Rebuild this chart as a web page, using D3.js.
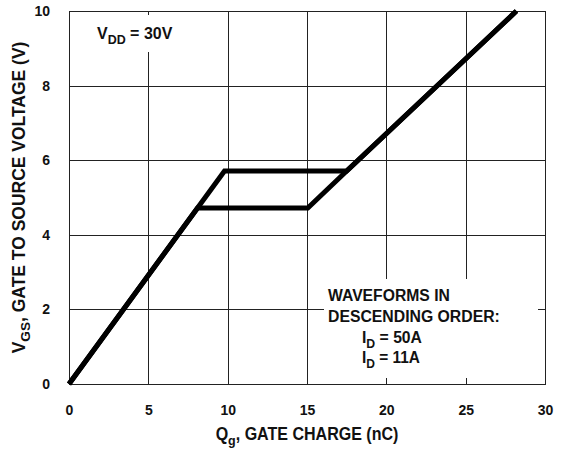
<!DOCTYPE html>
<html><head><meta charset="utf-8">
<script src="https://cdn.jsdelivr.net/npm/d3@7"></script>
<style>
html,body{margin:0;padding:0;background:#fff;}
svg{display:block;}
text{font-family:"Liberation Sans",Arial,sans-serif;font-weight:bold;fill:#111;}
</style></head>
<body>
<svg id="chart" width="563" height="450"></svg>
<script>
// ---- data ----
const xTicks = [0, 5, 10, 15, 20, 25, 30];
const yTicks = [0, 2, 4, 6, 8, 10];
const qUpper = [0, 9.8, 17.5, 28.2];          // I_D = 50A
const vUpper = [0, 5.71, 5.71, 10];
const qLower = [0, 8.1, 15.05, 17.5, 28.2];   // I_D = 11A
const vLower = [0, 4.72, 4.72, 5.71, 10];

const W = 563, H = 450;
const m = {left: 69, right: 18, top: 11, bottom: 66};
const svg = d3.select("#chart");
const x = d3.scaleLinear().domain([0, 30]).range([m.left, W - m.right]);
const y = d3.scaleLinear().domain([0, 10]).range([H - m.bottom, m.top]);
const cr = v => Math.round(v) + 0.5;

// grid
const g = svg.append("g");
g.selectAll(".vg").data(xTicks).join("line")
  .attr("x1", d => cr(x(d))).attr("x2", d => cr(x(d)))
  .attr("y1", y(10)).attr("y2", y(0))
  .attr("stroke", "#222").attr("stroke-width", 1);
g.selectAll(".hg").data(yTicks).join("line")
  .attr("y1", d => cr(y(d))).attr("y2", d => cr(y(d)))
  .attr("x1", x(0)).attr("x2", x(30))
  .attr("stroke", "#222").attr("stroke-width", 1);

// white label backgrounds
svg.append("rect").attr("x", 90).attr("y", 15).attr("width", 92).attr("height", 37).attr("fill", "#fff");
svg.append("rect").attr("x", 324).attr("y", 279).attr("width", 214).attr("height", 99).attr("fill", "#fff");

// frame
svg.append("rect")
  .attr("x", cr(x(0))).attr("y", cr(y(10)))
  .attr("width", Math.round(x(30)) - Math.round(x(0)))
  .attr("height", Math.round(y(0)) - Math.round(y(10)))
  .attr("fill", "none").attr("stroke", "#222").attr("stroke-width", 1);

// curves
const line = d3.line().x(d => x(d[0])).y(d => y(d[1]));
[[qUpper, vUpper], [qLower, vLower]].forEach(([q, v]) => {
  svg.append("path")
    .datum(q.map((d, i) => [d, v[i]]))
    .attr("d", line)
    .attr("fill", "none").attr("stroke", "#000")
    .attr("stroke-width", 5).attr("stroke-linejoin", "miter");
});

// axis tick labels (no tick marks)
const xAxis = d3.axisBottom(x).tickValues(xTicks).tickSize(0).tickPadding(21).tickFormat(d3.format("d"));
const xa = svg.append("g").attr("transform", `translate(0,${y(0)})`).call(xAxis);
xa.select(".domain").remove();
xa.selectAll("text").attr("font-size", 14).attr("fill", "#111")
  .attr("font-family", "Liberation Sans, Arial, sans-serif").attr("font-weight", "bold");
const yAxis = d3.axisLeft(y).tickValues(yTicks).tickSize(0).tickPadding(19).tickFormat(d3.format("d"));
const ya = svg.append("g").attr("transform", `translate(${x(0)},0)`).call(yAxis);
ya.select(".domain").remove();
ya.selectAll("text").attr("font-size", 14).attr("fill", "#111")
  .attr("font-family", "Liberation Sans, Arial, sans-serif").attr("font-weight", "bold");

// helper: text fitted to target width
function fitted(parent, px, py, targetW, anchor, size, parts, rotate) {
  const gg = parent.append("g");
  const t = gg.append("text").attr("font-size", size).attr("text-anchor", anchor);
  parts.forEach(p => {
    const ts = t.append("tspan").text(p.t);
    if (p.sub) ts.attr("font-size", size * 0.78).attr("dy", size * 0.28);
    if (p.up) ts.attr("dy", -size * 0.28);
  });
  const w = t.node().getBBox().width;
  const s = targetW / w;
  gg.attr("transform", `translate(${px},${py})` + (rotate ? ` rotate(${rotate})` : "") + ` scale(${s},1)`);
  return gg;
}

// V_DD label
fitted(svg, 97, 39, 76, "start", 17, [{t: "V"}, {t: "DD", sub: true}, {t: " = 30V", up: true}]);

// legend
fitted(svg, 328, 301, 122, "start", 17, [{t: "WAVEFORMS IN"}]);
fitted(svg, 328, 322, 172, "start", 17, [{t: "DESCENDING ORDER:"}]);
fitted(svg, 362, 343, 60, "start", 17, [{t: "I"}, {t: "D", sub: true}, {t: " = 50A", up: true}]);
fitted(svg, 362, 363, 58, "start", 17, [{t: "I"}, {t: "D", sub: true}, {t: " = 11A", up: true}]);

// axis titles
fitted(svg, (x(0) + x(30)) / 2, 440, 183, "middle", 17.5, [{t: "Q"}, {t: "g", sub: true}, {t: ", GATE CHARGE (nC)", up: true}]);
fitted(svg, 25, (y(0) + y(10)) / 2, 312, "middle", 17.5, [{t: "V"}, {t: "GS", sub: true}, {t: ", GATE TO SOURCE VOLTAGE (V)", up: true}], -90);
</script>
</body></html>
